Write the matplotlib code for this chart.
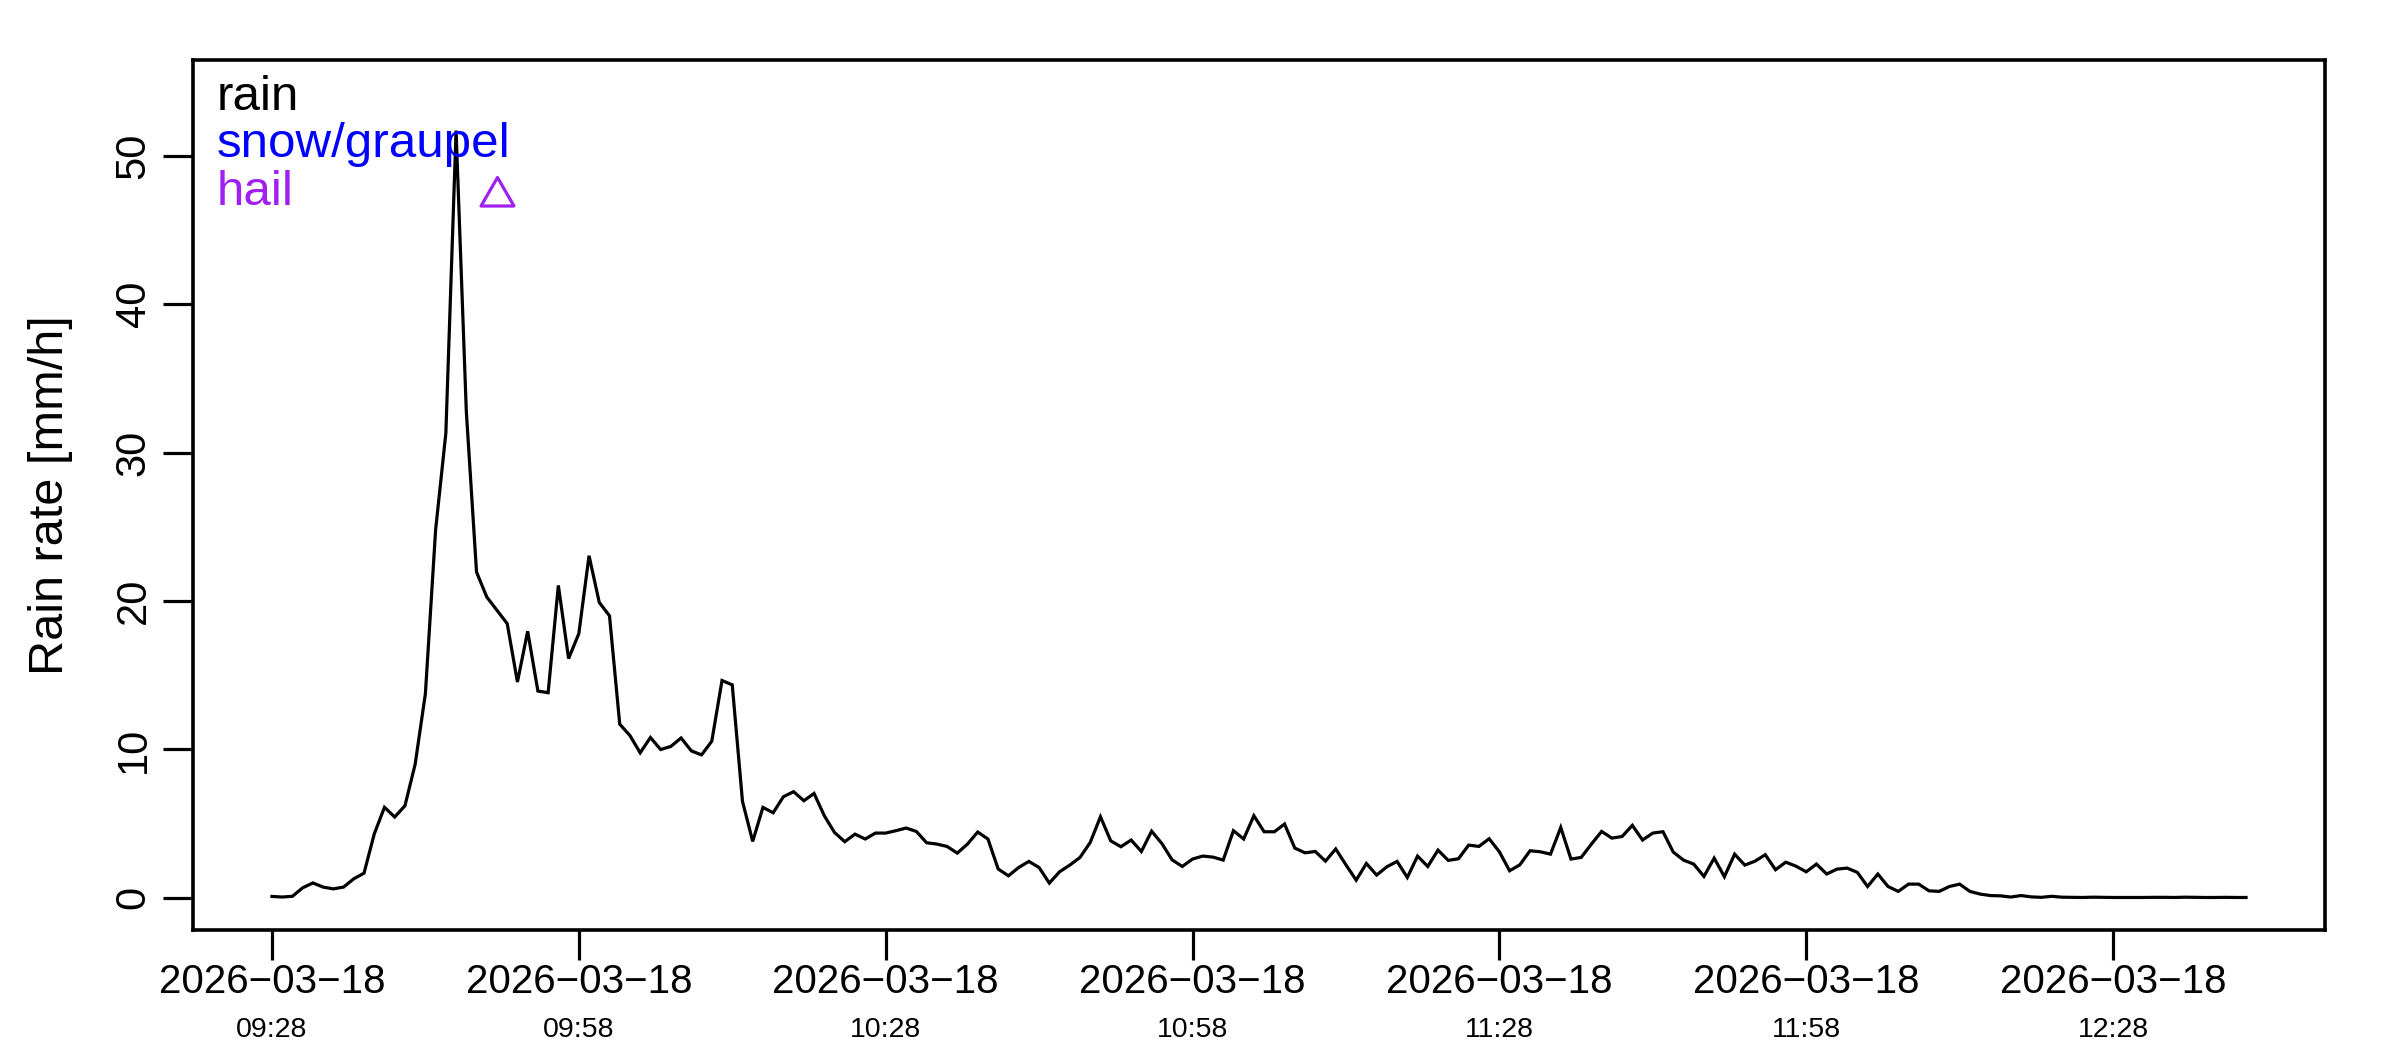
import matplotlib
matplotlib.use("Agg")
import matplotlib.pyplot as plt
import matplotlib.dates as mdates
import matplotlib.transforms as mtransforms
from matplotlib.path import Path
import pandas as pd

plt.rcParams['font.family'] = ['Liberation Sans', 'DejaVu Sans']

# rain rate per minute [mm/h]
rain = [0.09, 0.05, 0.10, 0.67, 1.00, 0.72, 0.60, 0.72, 1.28, 1.66,
        4.30, 6.10, 5.44, 6.20, 9.00, 13.75, 24.8, 31.3, 51.7, 32.8,
        21.95, 20.27, 19.37, 18.47, 14.54, 17.96, 13.93, 13.82, 21.05, 16.12,
        17.8, 23.05, 19.9, 19.0, 11.7, 10.93, 9.77, 10.8, 9.99, 10.2,
        10.77, 9.9, 9.63, 10.55, 14.64, 14.35, 6.5, 3.8, 6.09, 5.73,
        6.81, 7.15, 6.54, 7.03, 5.53, 4.4, 3.78, 4.29, 3.96, 4.36,
        4.36, 4.52, 4.70, 4.47, 3.71, 3.62, 3.46, 3.01, 3.62, 4.43,
        3.96, 1.94, 1.48, 2.04, 2.45, 2.04, 0.99, 1.75, 2.20, 2.72,
        3.73, 5.46, 3.84, 3.44, 3.89, 3.12, 4.49, 3.66, 2.56, 2.11,
        2.61, 2.81, 2.74, 2.54, 4.52, 3.96, 5.53, 4.45, 4.45, 4.97,
        3.35, 3.03, 3.12, 2.47, 3.29, 2.22, 1.19, 2.31, 1.53, 2.09,
        2.45, 1.37, 2.81, 2.11, 3.21, 2.52, 2.63, 3.55, 3.46, 3.98,
        3.10, 1.82, 2.22, 3.17, 3.10, 2.94, 4.74, 2.61, 2.72, 3.62,
        4.47, 4.02, 4.13, 4.88, 3.89, 4.36, 4.45, 3.08, 2.54, 2.27,
        1.44, 2.67, 1.42, 2.94, 2.20, 2.47, 2.90, 1.89, 2.40, 2.13,
        1.75, 2.27, 1.60, 1.93, 2.00, 1.71, 0.76, 1.60, 0.76, 0.43,
        0.92, 0.92, 0.47, 0.43, 0.76, 0.92, 0.43, 0.25, 0.15, 0.13,
        0.05, 0.15, 0.06, 0.03, 0.10, 0.04, 0.03, 0.02, 0.04, 0.03,
        0.02, 0.02, 0.02, 0.02, 0.03, 0.03, 0.02, 0.04, 0.03, 0.02,
        0.02, 0.03, 0.02, 0.02]
start = '2026-03-18 09:28'
tick_step = 30  # minutes between labelled ticks

hail_time = ['2026-03-18 09:50']
hail_rate = [47.3]

legend_labels = ['rain', 'snow/graupel', 'hail']
legend_colors = ['black', '#0000FF', '#A020F0']

times = pd.date_range(start, periods=len(rain), freq='min')

W, H = 2400, 1050
fig = plt.figure(figsize=(W / 100, H / 100), dpi=100)
ax = fig.add_axes([193 / W, 1 - 930 / H, (2325 - 193) / W, (930 - 60) / H])

ax.plot(times, rain, color='black', lw=2.3, solid_joinstyle='miter')

# open triangle like R pch=2
tri = Path([(0, 1), (-0.866, -0.5), (0.866, -0.5), (0, 1)], closed=True)
ax.plot(pd.to_datetime(hail_time), hail_rate, linestyle='none', marker=tri,
        markersize=27.4, markerfacecolor='none', markeredgecolor='#A020F0',
        markeredgewidth=2.3)

# R style 4% padding
t0 = mdates.date2num(times[0])
t1 = mdates.date2num(times[-1])
pad = 0.04 * (t1 - t0)
ax.set_xlim(t0 - pad, t1 + pad)
top = max(rain) * 1.05
ax.set_ylim(-0.04 * top, 1.04 * top)

for s in ax.spines.values():
    s.set_linewidth(2.6)

ticks = times[::tick_step]
ax.set_xticks(ticks)
ax.set_xticklabels([t.strftime('%Y-%m-%d').replace('-', '\u2212') for t in ticks])
ax.tick_params(axis='x', labelsize=29, length=21.8, width=2.3, pad=23.8)
for lbl in ax.get_xticklabels():
    lbl.set_va('baseline')

ax.set_yticks([0, 10, 20, 30, 40, 50])
ax.tick_params(axis='y', labelsize=30, length=21.8, width=2.3, pad=13,
               labelrotation=90)
for lbl in ax.get_yticklabels():
    lbl.set_rotation_mode('anchor')
    lbl.set_ha('center')
    lbl.set_va('baseline')

# second line of the x labels: time of day
trans = mtransforms.blended_transform_factory(ax.transData, fig.transFigure)
for t in ticks:
    ax.text(mdates.date2num(t), 1 - 1037 / H, t.strftime('%H:%M'),
            transform=trans, ha='center', va='baseline', fontsize=20.5)

ax.set_ylabel('Rain rate [mm/h]', fontsize=35)
ax.yaxis.label.set_va('baseline')
ax.yaxis.set_label_coords((63 - 193) / 2132, 0.5)

# legend text in the top left corner
for i, (lab, col) in enumerate(zip(legend_labels, legend_colors)):
    yb = 110 + i * 47.5
    ax.text((217 - 193) / 2132, (930 - yb) / 870, lab, color=col,
            fontsize=35.5, transform=ax.transAxes, ha='left', va='baseline')

fig.savefig('out.png', dpi=100)
